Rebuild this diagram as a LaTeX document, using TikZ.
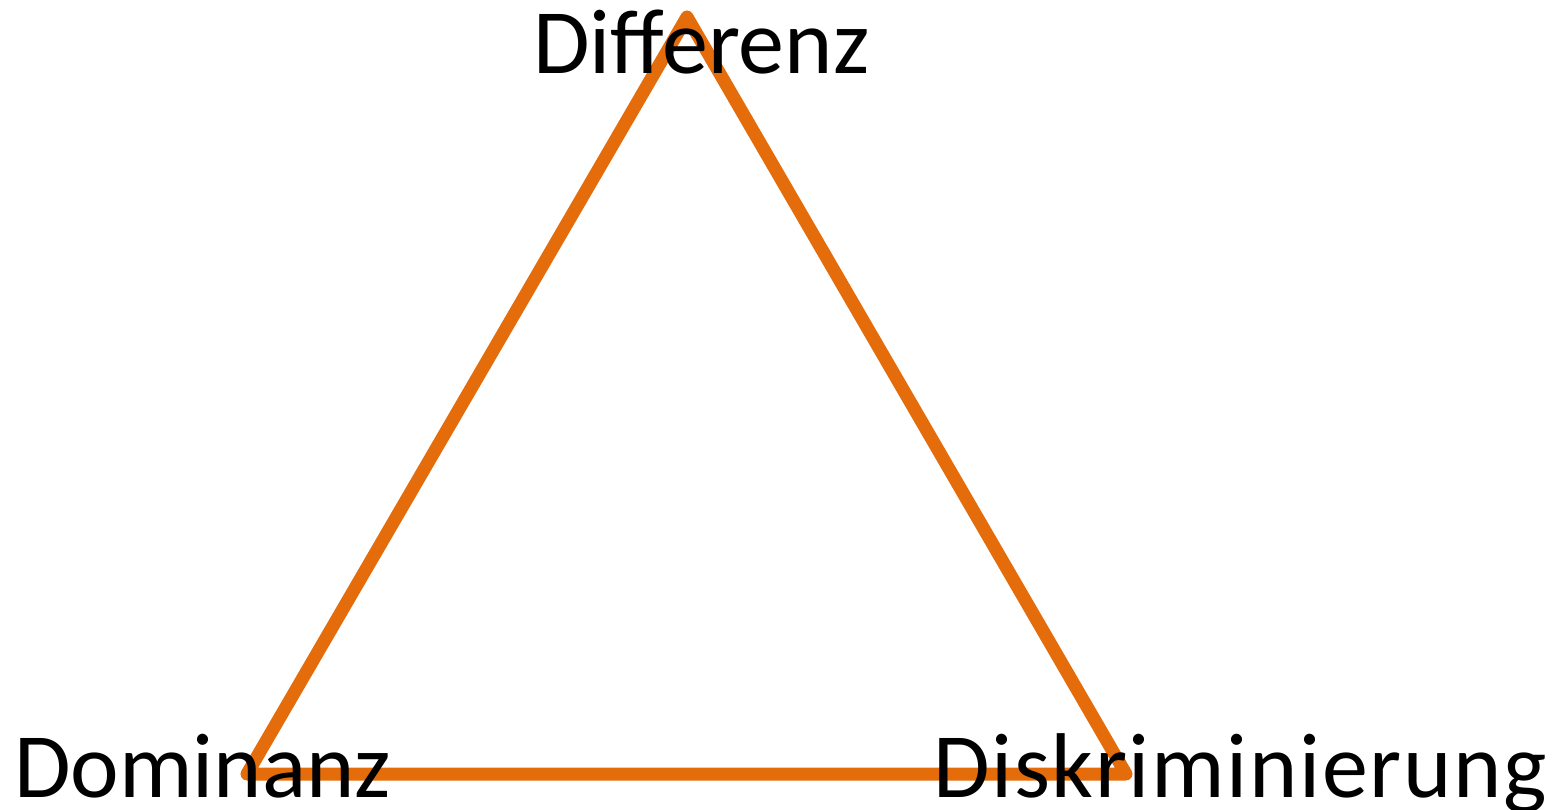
\documentclass[tikz,border=0pt]{standalone}
\usepackage{fontspec}
\setmainfont{Carlito}
\definecolor{triorange}{HTML}{E46C0A}
\begin{document}
\begin{tikzpicture}[x=1pt,y=-1pt,
  edge/.style={draw=triorange,line width=13pt,line join=round,line cap=round},
  lbl/.style={inner sep=0pt,anchor=base west,font=\fontsize{92}{92}\selectfont}]
\useasboundingbox (0,0) rectangle (1564,810);
\coordinate (top) at (687,17);
\coordinate (bl) at (247,774);
\coordinate (br) at (1126,774);
\draw[edge] (top) -- (bl) -- (br) -- cycle;
\node[lbl] (differenz) at (533,74) {Differenz};
\node[lbl] (dominanz) at (14,797) {Dominanz};
\node[lbl] (diskr) at (933,797) {\addfontfeature{LetterSpace=1.8}Diskriminierung};
\end{tikzpicture}
\end{document}
